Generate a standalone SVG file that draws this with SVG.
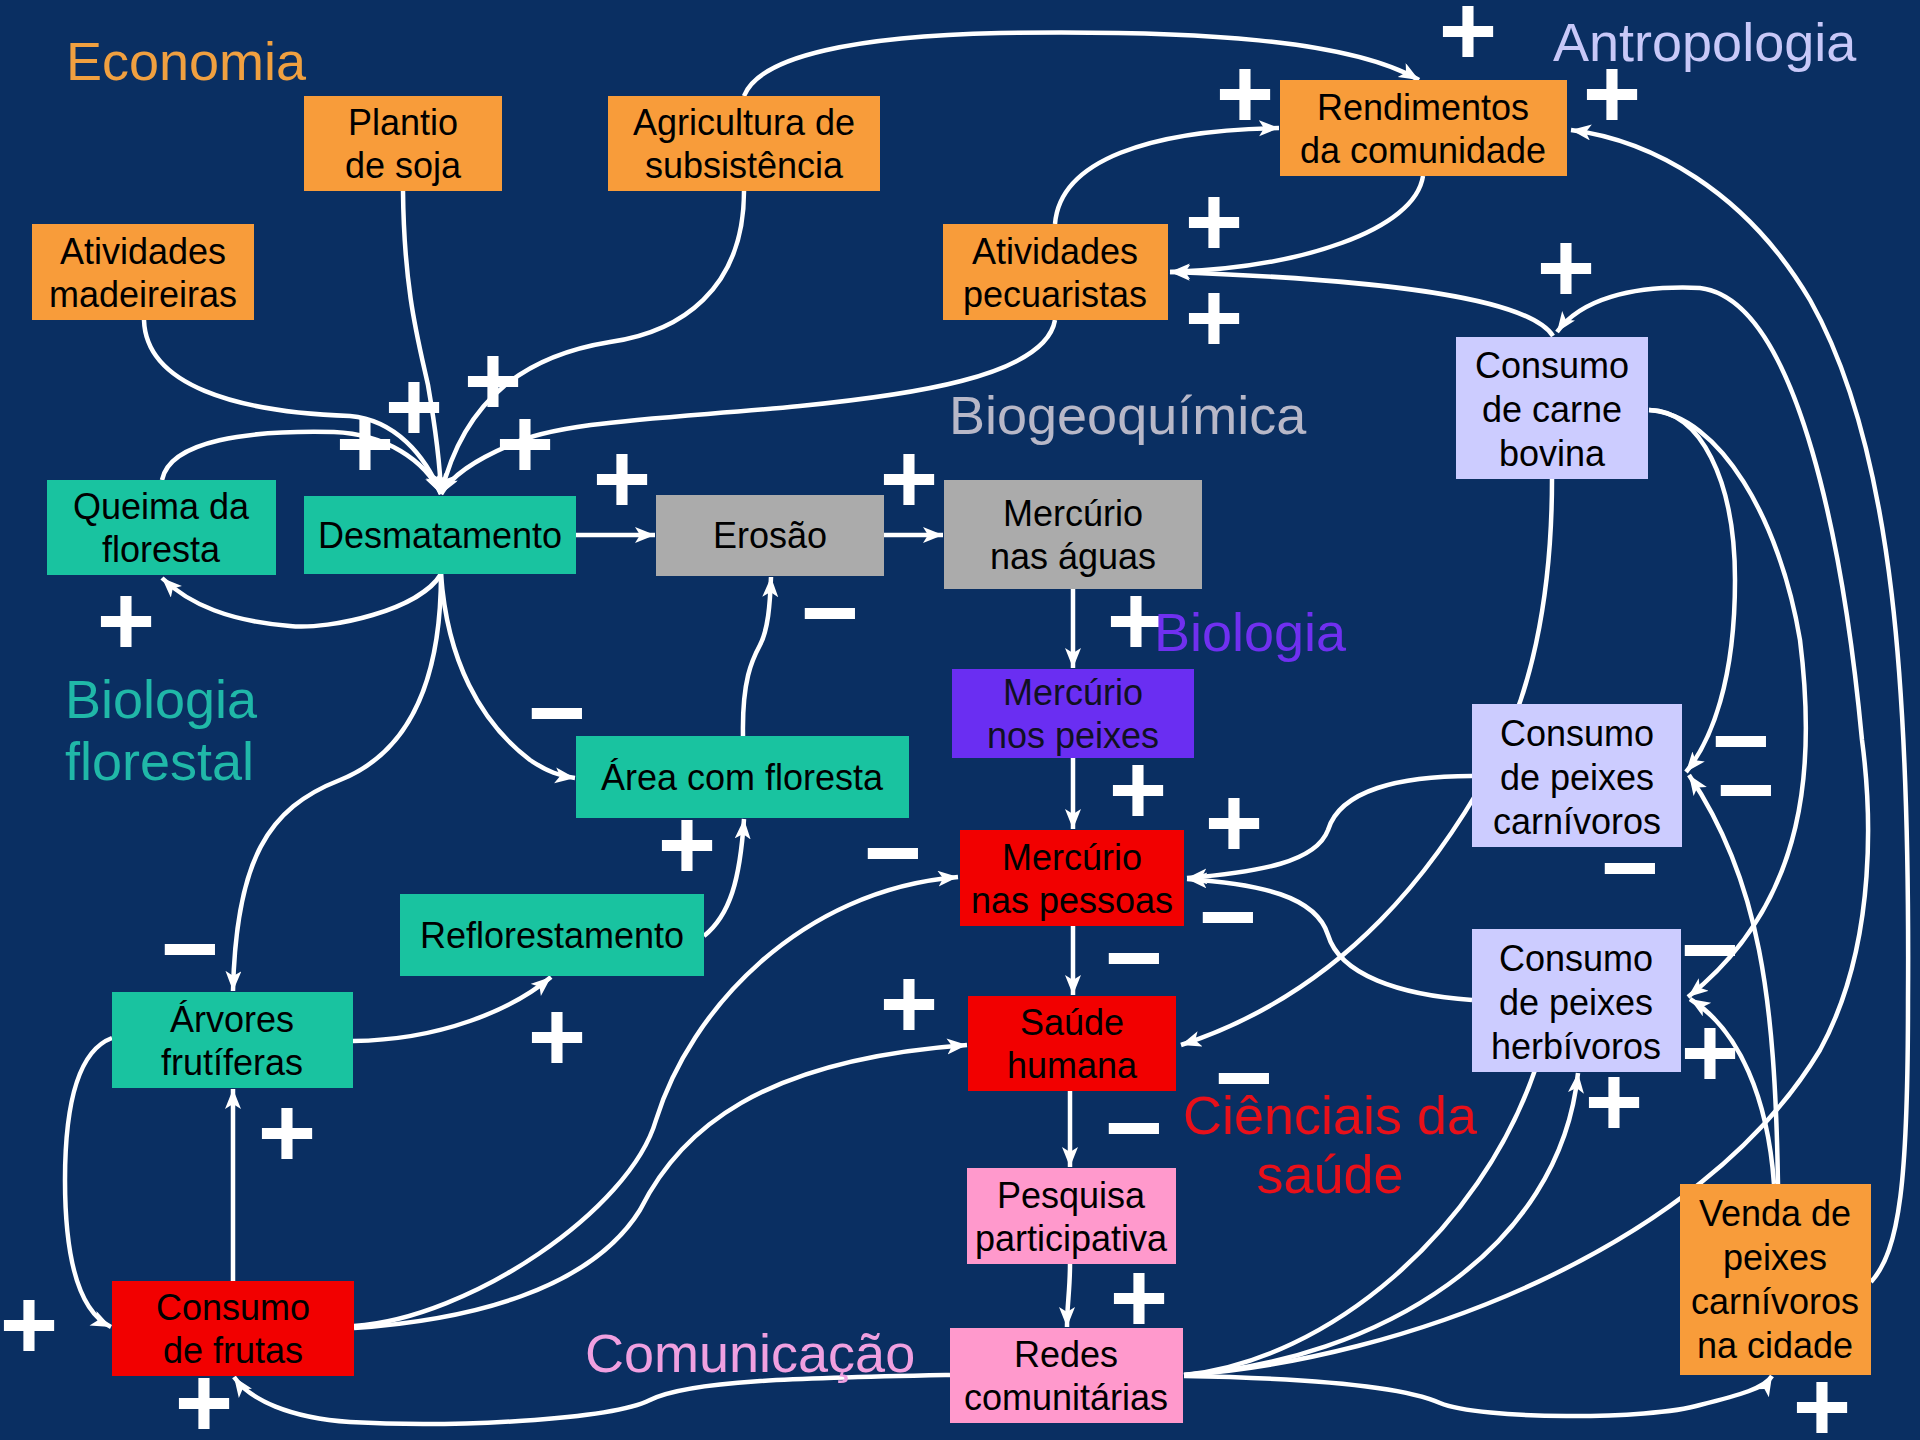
<svg xmlns="http://www.w3.org/2000/svg" width="1920" height="1440" viewBox="0 0 1920 1440">
<defs>
<marker id="ah" markerUnits="userSpaceOnUse" markerWidth="22" markerHeight="18" refX="20" refY="8" orient="auto">
<path d="M0,0 L20,8 L0,16 L5,8 Z" fill="#ffffff"/>
</marker>
<style>
.c{fill:none;stroke:#ffffff;stroke-width:4.5;marker-end:url(#ah)}
.cn{fill:none;stroke:#ffffff;stroke-width:4.5}
.t{font-family:"Liberation Sans",Arial,sans-serif;font-size:36px;fill:#000000;text-anchor:middle}
.s{font-family:"Liberation Sans",Arial,sans-serif;font-size:100px;font-weight:bold;fill:#ffffff;text-anchor:middle}
.lab{font-family:"Liberation Sans",Arial,sans-serif;font-size:54px}
.or{fill:#f89c3a}.tl{fill:#19c3a0}.gr{fill:#ababab}.pu{fill:#6a2ef2}.rd{fill:#f20000}.lv{fill:#ccccff}.pk{fill:#ff99cc}
</style>
</defs>
<rect width="1920" height="1440" fill="#0a2f62"/>
<g id="connectors">
<path class="c" d="M144,320 C146,385 235,412 350,416 C395,420 425,455 441,494"/>
<path class="c" d="M403,191 C404,290 418,340 428,385 C434,420 440,460 441,494"/>
<path class="c" d="M744,191 C744,290 680,332 610,342 C530,355 465,395 441,494"/>
<path class="c" d="M162,480 C170,440 250,430 334,432 C385,434 425,460 441,494"/>
<path class="c" d="M1055,320 C1045,378 900,396 800,406 C680,418 560,420 510,445 C475,460 452,475 441,494"/>
<path class="c" d="M744,96 C760,55 860,36 1000,33 C1200,30 1350,40 1419,80"/>
<path class="c" d="M576,535 L655,535"/>
<path class="c" d="M884,535 L943,535"/>
<path class="c" d="M441,574 C420,610 330,630 290,626 C230,621 190,605 162,578"/>
<path class="c" d="M441,574 C447,660 480,722 530,760 C548,772 560,776 575,778"/>
<path class="c" d="M441,574 C441,680 410,752 340,780 C268,808 236,860 233,991"/>
<path class="c" d="M353,1041 C440,1040 512,1010 551,977"/>
<path class="c" d="M704,936 C730,915 740,880 744,819"/>
<path class="c" d="M743,736 C742,680 752,660 760,645 C768,630 770,605 771,577"/>
<path class="c" d="M1073,589 L1073,668"/>
<path class="c" d="M1073,758 L1073,829"/>
<path class="c" d="M1073,926 L1073,995"/>
<path class="c" d="M1070,1091 L1070,1167"/>
<path class="c" d="M1070,1264 C1070,1290 1067,1305 1067,1327"/>
<path class="c" d="M233,1281 L233,1089"/>
<path class="c" d="M112,1038 C80,1050 65,1100 65,1180 C65,1262 80,1312 111,1327"/>
<path class="c" d="M354,1328 C470,1320 590,1290 640,1210 C680,1130 760,1060 967,1045"/>
<path class="c" d="M354,1326 C470,1318 630,1210 656,1120 C690,1010 800,890 958,877"/>
<path class="c" d="M1472,776 C1400,776 1340,790 1328,830 C1316,862 1260,872 1187,878"/>
<path class="c" d="M1472,1000 C1400,995 1340,975 1328,935 C1316,896 1260,884 1187,879"/>
<path class="c" d="M1552,479 C1552,600 1530,700 1490,770 C1440,860 1350,990 1181,1045"/>
<path class="c" d="M1553,336 C1530,300 1400,280 1170,272"/>
<path class="c" d="M1184,1375 C1400,1360 1700,1250 1820,1050 C1880,940 1870,800 1862,740 C1845,560 1800,300 1700,288 C1630,285 1580,300 1557,332"/>
<path class="c" d="M1871,1282 C1900,1250 1908,1180 1908,1000 C1910,700 1895,450 1810,300 C1745,190 1650,140 1571,130"/>
<path class="c" d="M1778,1184 C1775,1000 1760,880 1689,775"/>
<path class="c" d="M1774,1184 C1768,1100 1740,1030 1690,999"/>
<path class="c" d="M1649,410 C1700,410 1735,480 1735,580 C1735,680 1712,740 1686,772"/>
<path class="c" d="M1649,410 C1720,415 1780,520 1800,640 C1815,760 1810,900 1688,997"/>
<path class="cn" d="M1184,1375 C1330,1360 1480,1230 1535,1070"/>
<path class="c" d="M1184,1375 C1380,1360 1560,1250 1578,1073"/>
<path class="c" d="M1184,1376 C1300,1378 1400,1385 1440,1403 C1480,1420 1650,1420 1700,1405 C1740,1395 1765,1388 1772,1376"/>
<path class="c" d="M950,1375 C800,1378 690,1380 650,1400 C610,1420 450,1428 350,1422 C290,1418 250,1400 234,1377"/>
<path class="c" d="M1423,176 C1415,230 1300,268 1170,272"/>
<path class="c" d="M1055,224 C1060,160 1150,130 1279,128"/>
</g>
<g id="plantio"><rect class="or" x="304" y="96" width="198" height="95"/><text class="t" x="403" y="135">Plantio</text><text class="t" x="403" y="178">de soja</text></g>
<g id="agricultura"><rect class="or" x="608" y="96" width="272" height="95"/><text class="t" x="744" y="135">Agricultura de</text><text class="t" x="744" y="178">subsistência</text></g>
<g id="madeireiras"><rect class="or" x="32" y="224" width="222" height="96"/><text class="t" x="143" y="264">Atividades</text><text class="t" x="143" y="307">madeireiras</text></g>
<g id="rendimentos"><rect class="or" x="1280" y="80" width="287" height="96"/><text class="t" x="1423" y="120">Rendimentos</text><text class="t" x="1423" y="163">da comunidade</text></g>
<g id="pecuaristas"><rect class="or" x="943" y="224" width="225" height="96"/><text class="t" x="1055" y="264">Atividades</text><text class="t" x="1055" y="307">pecuaristas</text></g>
<g id="carne"><rect class="lv" x="1456" y="337" width="192" height="142"/><text class="t" x="1552" y="378">Consumo</text><text class="t" x="1552" y="422">de carne</text><text class="t" x="1552" y="466">bovina</text></g>
<g id="queima"><rect class="tl" x="47" y="480" width="229" height="95"/><text class="t" x="161" y="519">Queima da</text><text class="t" x="161" y="562">floresta</text></g>
<g id="desmatamento"><rect class="tl" x="304" y="496" width="272" height="78"/><text class="t" x="440" y="548">Desmatamento</text></g>
<g id="erosao"><rect class="gr" x="656" y="495" width="228" height="81"/><text class="t" x="770" y="548">Erosão</text></g>
<g id="mercurio_aguas"><rect class="gr" x="944" y="480" width="258" height="109"/><text class="t" x="1073" y="526">Mercúrio</text><text class="t" x="1073" y="569">nas águas</text></g>
<g id="mercurio_peixes"><rect class="pu" x="952" y="669" width="242" height="89"/><text class="t" x="1073" y="705" style="fill:#111122">Mercúrio</text><text class="t" x="1073" y="748" style="fill:#111122">nos peixes</text></g>
<g id="area"><rect class="tl" x="576" y="736" width="333" height="82"/><text class="t" x="742" y="790">Área com floresta</text></g>
<g id="mercurio_pessoas"><rect class="rd" x="960" y="830" width="224" height="96"/><text class="t" x="1072" y="870">Mercúrio</text><text class="t" x="1072" y="913">nas pessoas</text></g>
<g id="reflorestamento"><rect class="tl" x="400" y="894" width="304" height="82"/><text class="t" x="552" y="948">Reflorestamento</text></g>
<g id="carnivoros"><rect class="lv" x="1472" y="704" width="210" height="143"/><text class="t" x="1577" y="746">Consumo</text><text class="t" x="1577" y="790">de peixes</text><text class="t" x="1577" y="834">carnívoros</text></g>
<g id="herbivoros"><rect class="lv" x="1472" y="929" width="209" height="143"/><text class="t" x="1576" y="971">Consumo</text><text class="t" x="1576" y="1015">de peixes</text><text class="t" x="1576" y="1059">herbívoros</text></g>
<g id="arvores"><rect class="tl" x="112" y="992" width="241" height="96"/><text class="t" x="232" y="1032">Árvores</text><text class="t" x="232" y="1075">frutíferas</text></g>
<g id="saude"><rect class="rd" x="968" y="996" width="208" height="95"/><text class="t" x="1072" y="1035">Saúde</text><text class="t" x="1072" y="1078">humana</text></g>
<g id="pesquisa"><rect class="pk" x="967" y="1168" width="209" height="96"/><text class="t" x="1071" y="1208">Pesquisa</text><text class="t" x="1071" y="1251">participativa</text></g>
<g id="frutas"><rect class="rd" x="112" y="1281" width="242" height="95"/><text class="t" x="233" y="1320">Consumo</text><text class="t" x="233" y="1363">de frutas</text></g>
<g id="redes"><rect class="pk" x="950" y="1328" width="233" height="95"/><text class="t" x="1066" y="1367">Redes</text><text class="t" x="1066" y="1410">comunitárias</text></g>
<g id="venda"><rect class="or" x="1680" y="1184" width="191" height="191"/><text class="t" x="1775" y="1226">Venda de</text><text class="t" x="1775" y="1270">peixes</text><text class="t" x="1775" y="1314">carnívoros</text><text class="t" x="1775" y="1358">na cidade</text></g>
<g id="signs">
<text class="s" x="365" y="478">+</text>
<text class="s" x="414" y="441">+</text>
<text class="s" x="493" y="415">+</text>
<text class="s" x="525" y="478">+</text>
<text class="s" x="622" y="513">+</text>
<text class="s" x="909" y="513">+</text>
<text class="s" x="126" y="655">+</text>
<text class="s" x="1468" y="65">+</text>
<text class="s" x="1245" y="128">+</text>
<text class="s" x="1612" y="128">+</text>
<text class="s" x="1214" y="256">+</text>
<text class="s" x="1214" y="352">+</text>
<text class="s" x="1566" y="302">+</text>
<text class="s" x="1136" y="655">+</text>
<text class="s" x="1138" y="824">+</text>
<text class="s" x="1234" y="857">+</text>
<text class="s" x="687" y="879">+</text>
<text class="s" x="557" y="1071">+</text>
<text class="s" x="909" y="1038">+</text>
<text class="s" x="287" y="1167">+</text>
<text class="s" x="29" y="1359">+</text>
<text class="s" x="204" y="1437">+</text>
<text class="s" x="1139" y="1332">+</text>
<text class="s" x="1822" y="1441">+</text>
<text class="s" x="1710" y="1087">+</text>
<text class="s" x="1614" y="1136">+</text>
<text class="s" x="557" y="747">−</text>
<text class="s" x="190" y="983">−</text>
<text class="s" x="830" y="647">−</text>
<text class="s" x="893" y="887">−</text>
<text class="s" x="1228" y="951">−</text>
<text class="s" x="1134" y="992">−</text>
<text class="s" x="1244" y="1112">−</text>
<text class="s" x="1134" y="1162">−</text>
<text class="s" x="1630" y="902">−</text>
<text class="s" x="1741" y="775">−</text>
<text class="s" x="1746" y="824">−</text>
<text class="s" x="1710" y="984">−</text>
</g>
<g id="labels">
<text class="lab" x="66" y="80" fill="#f0a040">Economia</text>
<text class="lab" x="1553" y="61" fill="#c8c8f8">Antropologia</text>
<text class="lab" x="949" y="434" fill="#b8b8c8">Biogeoquímica</text>
<text class="lab" x="1154" y="651" fill="#7030f0">Biologia</text>
<text class="lab" x="65" y="718" fill="#20b8a8">Biologia</text>
<text class="lab" x="65" y="780" fill="#20b8a8">florestal</text>
<text class="lab" x="1330" y="1134" fill="#e8101a" text-anchor="middle">Ciênciais da</text>
<text class="lab" x="1330" y="1193" fill="#e8101a" text-anchor="middle">saúde</text>
<text class="lab" x="585" y="1372" fill="#f0a0e0">Comunicação</text>
</g>
</svg>
